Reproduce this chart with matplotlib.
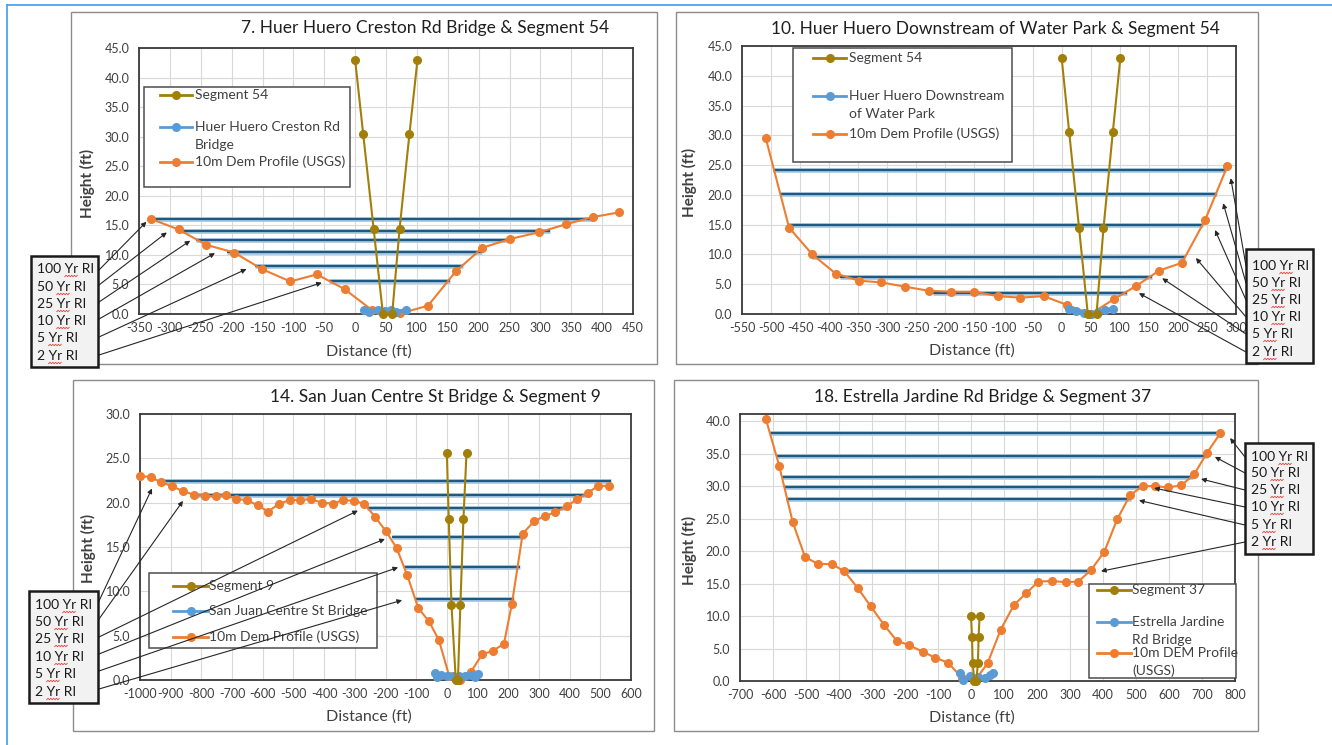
import matplotlib
matplotlib.use('Agg')
import matplotlib.pyplot as plt
from matplotlib.patches import Rectangle
from matplotlib.ticker import FormatStrFormatter
from matplotlib.textpath import TextPath
from matplotlib.font_manager import FontProperties
import numpy as np

FONT = 'Lato'
plt.rcParams['font.family'] = [FONT, 'DejaVu Sans']
plt.rcParams['axes.unicode_minus'] = False

W, H = 1332, 745
GOLD = '#A27F08'
BLUE = '#5B9BD5'
ORANGE = '#ED7D31'
RI_DARK = '#1E5A80'
RI_LIGHT = '#A7C8E4'
TXT = '#404040'

ri_labels = ['100 Yr RI', '50 Yr RI', '25 Yr RI', '10 Yr RI', '5 Yr RI', '2 Yr RI']

# Segment 54 (shared by charts 7 and 10)
seg54_x = [0, 13, 30, 45, 60, 72, 88, 101]
seg54_y = [43.0, 30.5, 14.4, 0.0, 0.0, 14.4, 30.5, 43.0]

# --- 7. Huer Huero Creston Rd Bridge
p1_dem_x = [-331, -286, -241, -196, -151, -105, -62, -17, 28, 73, 118, 163, 206, 251, 297, 342, 385, 428]
p1_dem_y = [16.1, 14.3, 11.7, 10.4, 7.6, 5.5, 6.7, 4.2, 0.6, 0.1, 1.4, 7.2, 11.2, 12.7, 13.8, 15.2, 16.4, 17.2]
p1_br_x = [15, 23, 37, 49, 58, 67, 83]
p1_br_y = [0.7, 0.4, 0.7, 0.5, 0.7, 0.4, 0.7]
p1_ri_y = [16.0, 14.1, 12.6, 10.5, 8.1, 5.5]
p1_ri_x0 = [-330, -286, -258, -208, -162, -42]
p1_ri_x1 = [383, 315, 253, 205, 175, 153]

# --- 10. Huer Huero Downstream of Water Park
p2_dem_x = [-509, -469, -429, -389, -349, -310, -270, -229, -190, -150, -110, -71, -31, 10, 50, 90, 128, 168, 207, 247, 285]
p2_dem_y = [29.5, 14.5, 10.0, 6.8, 5.6, 5.3, 4.6, 3.9, 3.75, 3.75, 3.0, 2.75, 3.0, 1.5, 0.0, 2.5, 4.7, 7.3, 8.6, 15.8, 24.8]
p2_br_x = [12, 25, 38, 50, 62, 75, 88]
p2_br_y = [0.8, 0.5, 0.25, 0.05, 0.3, 0.6, 0.9]
p2_ri_y = [24.1, 20.15, 14.9, 9.5, 6.2, 3.6]
p2_ri_x0 = [-496, -485, -470, -430, -381, -221]
p2_ri_x1 = [283, 268, 243, 213, 155, 113]

# --- 14. San Juan Centre St Bridge
seg9_x = [0, 6, 15, 29, 36, 44, 54, 64]
seg9_y = [25.6, 18.2, 8.5, 0.0, 0.0, 8.5, 18.2, 25.6]
p3_dem_x = [-1000, -965, -932, -897, -861, -824, -788, -753, -721, -687, -652, -617, -582, -546, -511,
            -479, -443, -408, -372, -337, -303, -270, -234, -199, -164, -129, -93, -58, -26, 8,
            43, 78, 115, 151, 186, 212, 247, 284, 319, 353, 390, 425, 459, 493, 527]
p3_dem_y = [23.0, 22.9, 22.3, 21.9, 21.3, 20.9, 20.8, 20.7, 20.9, 20.4, 20.3, 19.7, 19.0, 19.9, 20.3,
            20.3, 20.4, 20.0, 19.9, 20.3, 20.2, 19.9, 18.4, 16.8, 14.9, 11.8, 8.1, 6.6, 4.5, 0.4,
            0.0, 0.9, 2.9, 3.3, 4.1, 8.6, 16.5, 17.9, 18.5, 18.9, 19.6, 20.4, 21.1, 21.9, 21.9]
p3_br_x = [-40, -32, -20, 0, 20, 40, 60, 80, 92, 102]
p3_br_y = [0.8, 0.3, 0.6, 0.5, 0.4, 0.4, 0.5, 0.6, 0.3, 0.7]
p3_ri_y = [22.4, 20.9, 19.4, 16.1, 12.8, 9.1]
p3_ri_x0 = [-935, -835, -261, -180, -140, -104]
p3_ri_x1 = [534, 455, 384, 253, 237, 219]

# --- 18. Estrella Jardine Rd Bridge
seg37_x = [0, 3, 5, 10, 16, 21, 23, 26]
seg37_y = [10.0, 6.8, 2.8, 0.0, 0.0, 2.8, 6.8, 10.0]
p4_dem_x = [-622, -581, -540, -503, -463, -422, -384, -343, -304, -263, -225, -187, -146, -109, -69,
            -28, 12, 50, 90, 130, 167, 204, 246, 287, 325, 364, 404, 443, 482, 520,
            558, 596, 637, 676, 715, 755]
p4_dem_y = [40.4, 33.1, 24.4, 19.1, 18.0, 18.0, 16.9, 14.3, 11.5, 8.6, 6.2, 5.5, 4.5, 3.6, 2.8,
            0.5, 0.1, 2.7, 7.9, 11.7, 13.5, 15.3, 15.4, 15.2, 15.3, 17.1, 19.9, 24.9, 28.6, 30.0,
            30.0, 29.8, 30.1, 31.8, 35.1, 38.1]
p4_br_x = [-33, -23, -3, 22, 42, 58, 68]
p4_br_y = [1.2, 0.1, 0.7, 0.6, 0.5, 0.9, 1.3]
p4_ri_y = [38.1, 34.7, 31.4, 29.8, 27.95, 16.9]
p4_ri_x0 = [-609, -592, -574, -567, -561, -382]
p4_ri_x1 = [755, 717, 673, 529, 485, 367]

panels = [
    dict(title='7. Huer Huero Creston Rd Bridge & Segment 54', title_xy=(425, 28),
         frame=(71, 12, 657, 364), rect=(139, 48, 633, 314),
         xlim=(-350, 450), xstep=50, ylim=(0, 45), ymax_tick=45,
         seg=(seg54_x, seg54_y), br=(p1_br_x, p1_br_y), dem=(p1_dem_x, p1_dem_y),
         ri=(p1_ri_y, p1_ri_x0, p1_ri_x1),
         xlab=(369, 352), ylab=(87, 183),
         legend=dict(box=(144, 87, 350, 187), hx=(160, 192), tx=195,
                     rows=[(95, ['Segment 54']), (127, ['Huer Huero Creston Rd', 'Bridge']),
                           (162, ['10m Dem Profile (USGS)'])]),
         ribox=(31, 256, 98, 367), ri_rows=[269, 287, 304, 321, 338, 356], ri_tx=37,
         tails=[(99, 270), (99, 285), (99, 302), (99, 319), (99, 337), (99, 355)],
         heads=[(-338, 15.6), (-305, 13.8), (-267, 12.4), (-227, 10.3), (-176, 7.6), (-54, 5.3)]),
    dict(title='10. Huer Huero Downstream of Water Park & Segment 54', title_xy=(995, 29),
         frame=(676, 12, 1258, 364), rect=(742, 46, 1236, 314),
         xlim=(-550, 300), xstep=50, ylim=(0, 45), ymax_tick=45,
         seg=(seg54_x, seg54_y), br=(p2_br_x, p2_br_y), dem=(p2_dem_x, p2_dem_y),
         ri=(p2_ri_y, p2_ri_x0, p2_ri_x1),
         xlab=(972, 351), ylab=(689, 182),
         legend=dict(box=(793, 48, 1012, 162), hx=(813, 846), tx=849,
                     rows=[(58, ['Segment 54']), (96, ['Huer Huero Downstream', 'of Water Park']),
                           (134, ['10m Dem Profile (USGS)'])]),
         ribox=(1246, 249, 1313, 363), ri_rows=[266, 283, 300, 317, 334, 352], ri_tx=1252,
         tails=[(1246, 266), (1246, 283), (1246, 300), (1246, 317), (1246, 334), (1246, 352)],
         heads=[(291, 22.8), (278, 18.6), (264, 14.1), (231, 9.4), (173, 6.0), (133, 3.5)]),
    dict(title='14. San Juan Centre St Bridge & Segment 9', title_xy=(435, 397),
         frame=(73, 380, 654, 731), rect=(140, 414, 631, 680),
         xlim=(-1000, 600), xstep=100, ylim=(0, 30), ymax_tick=30,
         seg=(seg9_x, seg9_y), br=(p3_br_x, p3_br_y), dem=(p3_dem_x, p3_dem_y),
         ri=(p3_ri_y, p3_ri_x0, p3_ri_x1),
         xlab=(369, 717), ylab=(88, 548),
         legend=dict(box=(149, 573, 377, 648), hx=(173, 208), tx=209,
                     rows=[(586, ['Segment 9']), (611, ['San Juan Centre St Bridge']),
                           (637, ['10m Dem Profile (USGS)'])]),
         ribox=(29, 591, 98, 703), ri_rows=[605, 622, 639, 657, 674, 692], ri_tx=35,
         tails=[(99, 601), (99, 619), (99, 637), (99, 654), (99, 671), (99, 689)],
         heads=[(-961, 21.6), (-860, 20.2), (-290, 19.1), (-202, 15.9), (-159, 12.7), (-146, 9.0)]),
    dict(title='18. Estrella Jardine Rd Bridge & Segment 37', title_xy=(983, 397),
         frame=(674, 380, 1258, 731), rect=(740, 414, 1235, 681),
         xlim=(-700, 800), xstep=100, ylim=(0, 41.1), ymax_tick=40,
         seg=(seg37_x, seg37_y), br=(p4_br_x, p4_br_y), dem=(p4_dem_x, p4_dem_y),
         ri=(p4_ri_y, p4_ri_x0, p4_ri_x1),
         xlab=(972, 718), ylab=(689, 550),
         legend=dict(box=(1089, 584, 1236, 678), hx=(1097, 1131), tx=1132,
                     rows=[(590, ['Segment 37']), (622, ['Estrella Jardine', 'Rd Bridge']),
                           (653, ['10m DEM Profile', '(USGS)'])]),
         ribox=(1245, 443, 1313, 554), ri_rows=[457, 473, 490, 507, 525, 542], ri_tx=1251,
         tails=[(1245, 457), (1245, 473), (1245, 490), (1245, 507), (1245, 525), (1245, 542)],
         heads=[(785, 37.4), (739, 34.5), (697, 31.1), (555, 29.7), (509, 27.8), (394, 16.9)]),
]


def px_rect(l, t, r, b):
    return [l / W, 1 - b / H, (r - l) / W, (b - t) / H]


fig = plt.figure(figsize=(W / 100, H / 100), dpi=100, facecolor='white')

# overlay in pixel coordinates for frames, titles, legends and callouts
ov = fig.add_axes([0, 0, 1, 1], zorder=10)
ov.set_xlim(0, W)
ov.set_ylim(H, 0)
ov.axis('off')
ov.patch.set_visible(False)

# outer light-blue border
ov.plot([7, W], [5, 5], color='#4AA3F5', lw=1.3)
ov.plot([7, 7], [5, H], color='#4AA3F5', lw=1.3)

FS_RI = 10
fp_ri = FontProperties(family=FONT, size=FS_RI)

for p in panels:
    ax = fig.add_axes(px_rect(*p['rect']))
    ax.set_xlim(*p['xlim'])
    ax.set_ylim(*p['ylim'])
    ax.set_xticks(np.arange(p['xlim'][0], p['xlim'][1] + 1, p['xstep']))
    ax.set_yticks(np.arange(0, p['ymax_tick'] + 0.1, 5))
    ax.yaxis.set_major_formatter(FormatStrFormatter('%.1f'))
    ax.grid(True, color='#D9D9D9', lw=0.8)
    ax.set_axisbelow(True)
    ax.tick_params(length=0, labelsize=9, colors=TXT)
    ax.tick_params(axis='x', pad=6)
    ax.tick_params(axis='y', pad=7)
    for s in ax.spines.values():
        s.set_color('#3A3A3A')
        s.set_linewidth(1.3)

    ry, rx0, rx1 = p['ri']
    for y, a, b in zip(ry, rx0, rx1):
        ax.plot([a, b], [y, y], color=RI_LIGHT, lw=3.4, solid_capstyle='butt', zorder=3)
        ax.plot([a, b], [y, y], color=RI_DARK, lw=1.6, solid_capstyle='butt', zorder=3.1)

    ax.plot(*p['dem'], color=ORANGE, lw=1.5, marker='o', ms=5.5, zorder=4, clip_on=False)
    ax.plot(*p['br'], color=BLUE, lw=2.4, marker='o', ms=5.5, zorder=4.5, clip_on=False)
    ax.plot(*p['seg'], color=GOLD, lw=1.5, marker='o', ms=5.5, zorder=5, clip_on=False)

    # panel frame
    l, t, r, b = p['frame']
    ov.add_patch(Rectangle((l, t), r - l, b - t, fill=False, ec='#8C8C8C', lw=1.0, zorder=1))
    ov.text(*p['title_xy'], p['title'], ha='center', va='center', fontsize=12.5, color='#1F1F1F')
    ov.text(*p['xlab'], 'Distance (ft)', ha='center', va='center', fontsize=11.5, color=TXT)
    ov.text(*p['ylab'], 'Height (ft)', ha='center', va='center', fontsize=11, color=TXT,
            rotation=90, fontweight='bold')

    # legend
    lg = p['legend']
    l, t, r, b = lg['box']
    ov.add_patch(Rectangle((l, t), r - l, b - t, fc='white', ec='#4D4D4D', lw=1.1, zorder=2))
    colors = [GOLD, BLUE, ORANGE]
    for (y, lines), c in zip(lg['rows'], colors):
        hx0, hx1 = lg['hx']
        ov.plot([hx0, hx1], [y, y], color=c, lw=2.0, zorder=3)
        ov.plot([(hx0 + hx1) / 2], [y], 'o', color=c, ms=5.5, zorder=3)
        for k, line in enumerate(lines):
            ov.text(lg['tx'], y + k * 18, line, ha='left', va='center', fontsize=10,
                    color=TXT, zorder=3)

    # arrows from RI box to the water surface lines
    for (tx, ty), (hx, hy) in zip(p['tails'], p['heads']):
        ov.annotate('', xy=(hx, hy), xycoords=ax.transData, xytext=(tx, ty), textcoords='data',
                    arrowprops=dict(arrowstyle='-|>', color='#262626', lw=0.8,
                                    mutation_scale=7, shrinkA=0, shrinkB=0), zorder=6)

    # RI label box
    l, t, r, b = p['ribox']
    ov.add_patch(Rectangle((l, t), r - l, b - t, fc='#F2F2F2', ec='#1A1A1A', lw=1.8, zorder=7))
    for lab, y in zip(ri_labels, p['ri_rows']):
        ov.text(p['ri_tx'], y, lab, ha='left', va='center', fontsize=FS_RI, color='#1A1A1A',
                zorder=8)
        pre = lab.split(' ')[0] + ' Yr'
        e_pre = TextPath((0, 0), pre, prop=fp_ri).get_extents()
        e_yr = TextPath((0, 0), 'Yr', prop=fp_ri).get_extents()
        x1 = p['ri_tx'] + e_pre.x1 * 100 / 72
        x0 = x1 - (e_yr.x1 - e_yr.x0) * 100 / 72
        xs = np.arange(x0, x1 + 0.1, 1.4)
        ys = y + 7 + 0.7 * (-1) ** np.arange(len(xs))
        ov.plot(xs, ys, color='#E8413C', lw=0.6, zorder=8)

fig.savefig('out.png', dpi=100, facecolor='white')
